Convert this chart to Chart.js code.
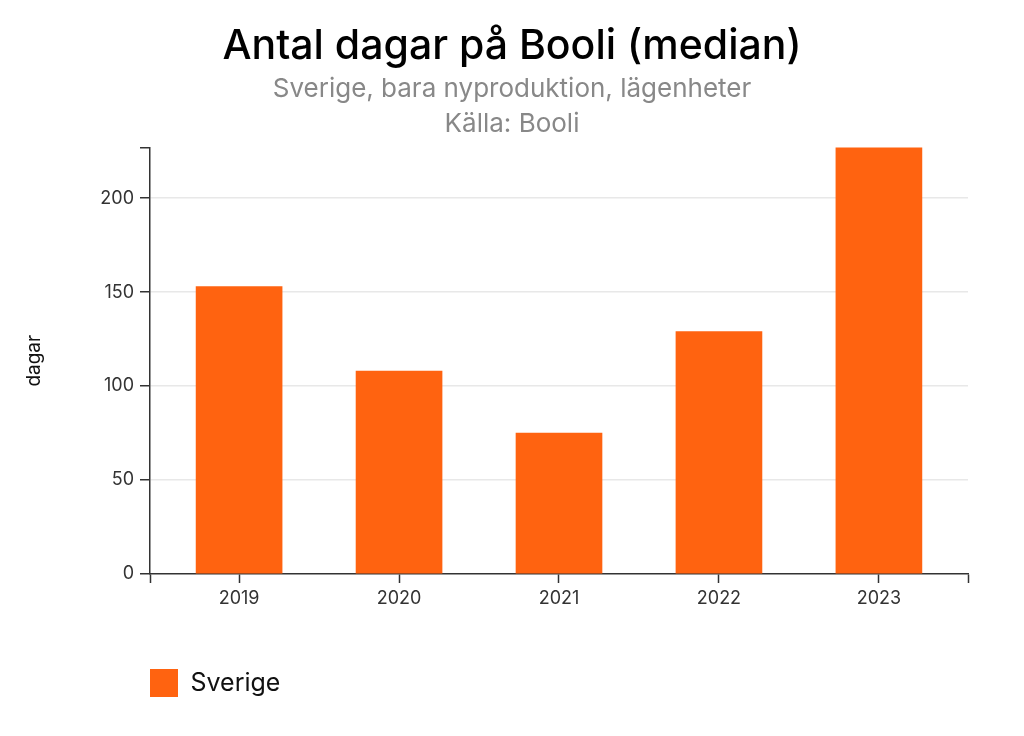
<!DOCTYPE html>
<html>
<head>
<meta charset="utf-8">
<script src="https://cdn.jsdelivr.net/npm/chart.js@4"></script>
<style>
  body { margin: 0; background: #fff; }
  #wrap { width: 1024px; height: 736px; }
</style>
</head>
<body>
<div id="wrap"><canvas id="booli"></canvas></div>
<script>
const years = ['2019', '2020', '2021', '2022', '2023'];
const days = [153, 108, 75, 129, 227];
const seriesName = 'Sverige';
const yTicks = [0, 50, 100, 150, 200];

Chart.defaults.font.family = 'Inter';
Chart.defaults.color = '#333';

const axisColor = '#333';

const data = {
    datasets: [{
        label: seriesName,
        data: days.map((v, i) => ({x: i, y: v})),
        backgroundColor: '#ff6310',
        borderWidth: 0,
        barThickness: 86
    }]
};

const options = {
    responsive: true,
    maintainAspectRatio: false,
    animation: false,
    layout: {
        padding: {top: 22, right: 0, bottom: 29, left: 0}
    },
    plugins: {
        title: {
            display: true,
            text: 'Antal dagar på Booli (median)',
            color: '#000',
            font: {size: 41, weight: 500, lineHeight: 1.2},
            padding: {top: 0, bottom: 0}
        },
        subtitle: {
            display: true,
            text: ['Sverige, bara nyproduktion, lägenheter', 'Källa: Booli'],
            color: '#888',
            font: {size: 26, weight: 400, lineHeight: 1.35},
            padding: {top: 0, bottom: 6}
        },
        legend: {
            position: 'bottom',
            align: 'start',
            fullSize: false,
            labels: {
                boxWidth: 28,
                boxHeight: 28,
                padding: 0,
                color: '#111',
                font: {size: 25}
            }
        },
        tooltip: {enabled: false}
    },
    scales: {
        x: {
            type: 'linear',
            offset: false,
            min: -0.557,
            max: years.length - 1 + 0.557,
            border: {color: axisColor, width: 1.5},
            grid: {offset: false, drawOnChartArea: false, tickColor: axisColor, tickLength: 9, tickWidth: 1.5},
            ticks: {
                stepSize: 1,
                autoSkip: false,
                maxRotation: 0,
                padding: 5,
                font: {size: 18},
                callback: v => Number.isInteger(v) && years[v] ? years[v] : ''
            },
            afterFit: scale => { scale.height = 95; scale.paddingRight = 56; }
        },
        y: {
            min: 0,
            max: Math.max(...days),
            border: {color: axisColor, width: 1.5},
            grid: {
                color: ctx => (ctx.tick && ctx.tick.value > 0 && yTicks.includes(ctx.tick.value)) ? '#e8e8e8' : 'rgba(0,0,0,0)',
                lineWidth: 1.5,
                tickColor: axisColor,
                tickLength: 10,
                tickWidth: 1.5
            },
            ticks: {
                stepSize: 50,
                padding: 6,
                font: {size: 18},
                callback: v => yTicks.includes(v) ? v : ''
            },
            title: {
                display: true,
                text: 'dagar',
                color: '#111',
                font: {size: 19},
                padding: {top: 23, bottom: 0}
            },
            afterFit: scale => { scale.width = 150; }
        }
    }
};

const ctx = document.getElementById('booli');
const chart = new Chart(ctx, {
    type: 'bar',
    data: data,
    options: options,
});
</script>
</body>
</html>
